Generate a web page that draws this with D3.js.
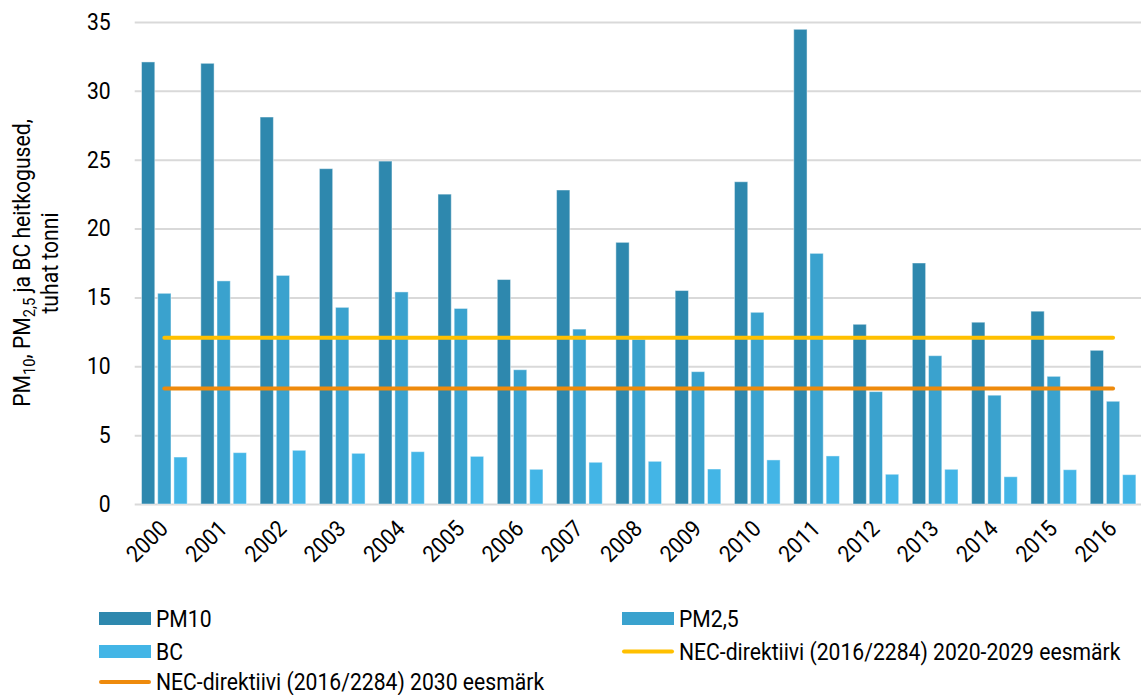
<!DOCTYPE html>
<html>
<head>
<meta charset="utf-8">
<script src="https://cdn.jsdelivr.net/npm/d3@7"></script>
<style>
  html, body { margin: 0; padding: 0; background: #fff; }
  svg { display: block; font-family: Roboto, "Noto Sans", sans-serif; }
</style>
</head>
<body>
<svg id="chart" width="1141" height="695"></svg>
<script>
// Emissions by year, thousand tonnes
const years = ["2000","2001","2002","2003","2004","2005","2006","2007","2008",
               "2009","2010","2011","2012","2013","2014","2015","2016"];
const pm10 = [32.1, 32.0, 28.1, 24.35, 24.9, 22.5, 16.3, 22.8, 19.0,
              15.5, 23.4, 34.47, 13.05, 17.5, 13.2, 14.0, 11.16];
const pm25 = [15.3, 16.2, 16.6, 14.28, 15.4, 14.2, 9.75, 12.7, 11.96,
              9.61, 13.92, 18.2, 8.16, 10.77, 7.9, 9.27, 7.46];
const bc   = [3.41, 3.73, 3.9, 3.68, 3.8, 3.46, 2.52, 3.03, 3.1,
              2.54, 3.2, 3.49, 2.16, 2.52, 1.98, 2.49, 2.13];

// PM2.5 reduction targets from the NEC directive
const necTarget2020 = 12.07;
const necTarget2030 = 8.38;

const yTicks = [0, 5, 10, 15, 20, 25, 30, 35];

const seriesKeys = ["PM10", "PM2,5", "BC"];
const seriesValues = [pm10, pm25, bc];
const colors = { "PM10": "#2e88ae", "PM2,5": "#3aa2ce", "BC": "#43b5e6" };
const yellow = "#ffc000";
const orange = "#ee8a0c";

const svg = d3.select("#chart");
const plotLeft = 134.7, plotRight = 1142.7, plotTop = 22, plotBottom = 504;
const fontSize = 23;
const narrow = 0.92;   // horizontal squeeze for a condensed look

const x0 = d3.scaleBand().domain(years).range([plotLeft, plotRight])
  .paddingInner(0.23).paddingOuter(0.115);
const x1 = d3.scaleBand().domain(seriesKeys).range([0, x0.bandwidth()])
  .paddingInner(0.18).paddingOuter(0);
const y = d3.scaleLinear().domain([0, 35]).range([plotBottom, plotTop]);

// Gridlines and value labels
const yAxis = svg.append("g")
  .attr("transform", `translate(${plotLeft},0)`)
  .call(d3.axisLeft(y).tickValues(yTicks).tickSize(-(plotRight - plotLeft)).tickPadding(24));
yAxis.select(".domain").remove();
yAxis.selectAll(".tick line").attr("stroke", "#d9d9d9").attr("stroke-width", 2);
yAxis.selectAll(".tick text")
  .attr("font-size", fontSize).attr("fill", "#000")
  .attr("font-family", "Roboto, sans-serif")
  .attr("x", -24 / narrow)
  .attr("transform", `scale(${narrow},1)`);

// Bars
const groups = svg.append("g").selectAll("g")
  .data(years.map((yr, i) => ({ year: yr, vals: seriesKeys.map((k, j) => ({ key: k, value: seriesValues[j][i] })) })))
  .join("g")
  .attr("transform", d => `translate(${x0(d.year)},0)`);
groups.selectAll("rect")
  .data(d => d.vals)
  .join("rect")
  .attr("x", d => x1(d.key))
  .attr("width", x1.bandwidth())
  .attr("y", d => y(d.value))
  .attr("height", d => y(0) - y(d.value))
  .attr("fill", d => colors[d.key])
  .attr("stroke", "rgba(255,255,255,0.45)")
  .attr("stroke-width", 1);

// Target lines across the category centres
const line = d3.line()
  .x(d => x0(d.year) + x0.bandwidth() / 2)
  .y(d => y(d.value));
[[necTarget2020, yellow], [necTarget2030, orange]].forEach(([v, c]) => {
  svg.append("path")
    .datum(years.map(yr => ({ year: yr, value: v })))
    .attr("d", line)
    .attr("fill", "none")
    .attr("stroke", c)
    .attr("stroke-width", 4)
    .attr("stroke-linecap", "round");
});

// Year labels
const xAxis = svg.append("g")
  .attr("transform", `translate(0,${plotBottom})`)
  .call(d3.axisBottom(x0).tickSize(0).tickPadding(0));
xAxis.select(".domain").remove();
xAxis.selectAll(".tick text")
  .attr("font-size", fontSize).attr("fill", "#000")
  .attr("font-family", "Roboto, sans-serif")
  .attr("text-anchor", "end")
  .attr("x", 0).attr("y", 0).attr("dy", 0)
  .attr("transform", `translate(5,26) rotate(-45) scale(${narrow},1)`);

// Axis title
const title = svg.append("text")
  .attr("transform", `translate(30,${(plotTop + plotBottom) / 2}) rotate(-90) scale(${narrow},1)`)
  .attr("text-anchor", "middle")
  .attr("font-size", fontSize);
title.append("tspan").text("PM");
title.append("tspan").text("10").attr("font-size", 16).attr("dy", 5);
title.append("tspan").text(", PM").attr("dy", -5);
title.append("tspan").text("2,5").attr("font-size", 16).attr("dy", 5);
title.append("tspan").text(" ja BC heitkogused,").attr("dy", -5);
svg.append("text")
  .attr("transform", `translate(58,${(plotTop + plotBottom) / 2}) rotate(-90) scale(${narrow},1)`)
  .attr("text-anchor", "middle")
  .attr("font-size", fontSize)
  .text("tuhat tonni");

// Legend
const legendItems = [
  { label: "PM10", type: "rect", color: colors["PM10"], x: 99, y: 618.5 },
  { label: "PM2,5", type: "rect", color: colors["PM2,5"], x: 622, y: 618.5 },
  { label: "BC", type: "rect", color: colors["BC"], x: 99, y: 651.5 },
  { label: "NEC-direktiivi (2016/2284) 2020-2029 eesmärk", type: "line", color: yellow, x: 622, y: 651.5 },
  { label: "NEC-direktiivi (2016/2284) 2030 eesmärk", type: "line", color: orange, x: 99, y: 682 }
];
const lg = svg.append("g").selectAll("g").data(legendItems).join("g")
  .attr("transform", d => `translate(${d.x},${d.y})`);
lg.filter(d => d.type === "rect").append("rect")
  .attr("x", 0).attr("y", -6.5).attr("width", 52).attr("height", 13)
  .attr("fill", d => d.color);
lg.filter(d => d.type === "line").append("line")
  .attr("x1", 2).attr("x2", 50).attr("y1", 0).attr("y2", 0)
  .attr("stroke", d => d.color).attr("stroke-width", 4).attr("stroke-linecap", "round");
lg.append("text")
  .attr("x", 0).attr("y", 0).attr("dy", "0.36em")
  .attr("transform", `translate(57,0) scale(${narrow},1)`)
  .attr("font-size", fontSize)
  .text(d => d.label);
</script>
</body>
</html>
